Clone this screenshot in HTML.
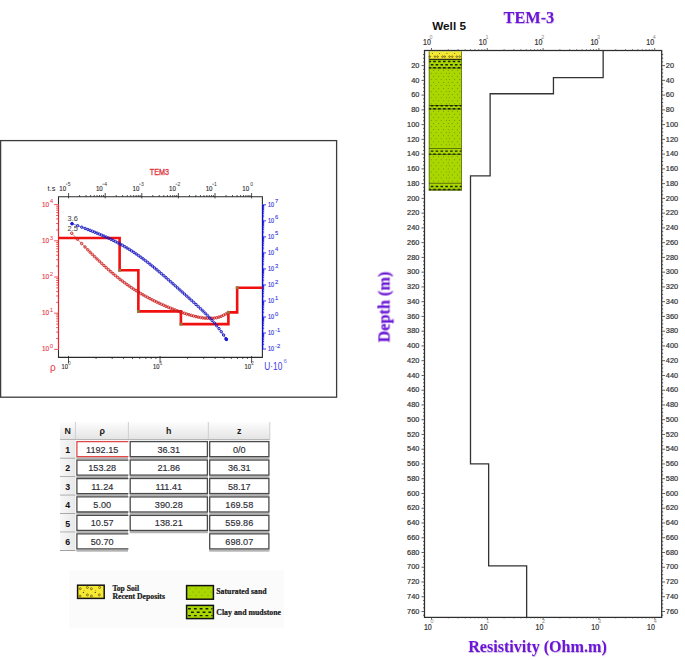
<!DOCTYPE html>
<html><head><meta charset="utf-8"><title>TEM-3</title>
<style>html,body{margin:0;padding:0;background:#fff;}body{width:685px;height:661px;overflow:hidden;}svg{display:block;}</style>
</head><body>
<svg width="685" height="661" viewBox="0 0 685 661">
<defs><filter id="sh" x="-10%" y="-30%" width="120%" height="160%"><feDropShadow dx="0.4" dy="0.8" stdDeviation="0.7" flood-color="#5010a0" flood-opacity="0.35"/></filter></defs>
<rect width="685" height="661" fill="#fff"/>
<rect x="0.6" y="140.6" width="336" height="256.6" fill="none" stroke="#3c3c3c" stroke-width="1.3"/>
<text x="149.80" y="174.90" font-family='"Liberation Sans", sans-serif' font-size="8.2" fill="#dc3440" textLength="19.3" lengthAdjust="spacingAndGlyphs" stroke="#dc3440" stroke-width="0.3">TEM3</text>
<path d="M58.5 204.60V196.7H262.4V204.80M58.5 349.40V357.4H262.4V349.07" fill="none" stroke="#2a2a2a" stroke-width="1.1"/>
<path d="M58.5 204.60V349.40" stroke="#e8242c" stroke-width="1.2"/>
<path d="M262.59999999999997 204.80V349.07" stroke="#1010d0" stroke-width="1.5"/>
<text x="49.10" y="351.30" font-family='"Liberation Sans", sans-serif' font-size="8" fill="#e8343e" text-anchor="end" textLength="7.2" lengthAdjust="spacingAndGlyphs" stroke="#e8343e" stroke-width="0.15">10</text>
<text x="49.80" y="348.10" font-family='"Liberation Sans", sans-serif' font-size="6.2" fill="#e8343e">0</text>
<text x="49.10" y="315.10" font-family='"Liberation Sans", sans-serif' font-size="8" fill="#e8343e" text-anchor="end" textLength="7.2" lengthAdjust="spacingAndGlyphs" stroke="#e8343e" stroke-width="0.15">10</text>
<text x="49.80" y="311.90" font-family='"Liberation Sans", sans-serif' font-size="6.2" fill="#e8343e">1</text>
<text x="49.10" y="278.90" font-family='"Liberation Sans", sans-serif' font-size="8" fill="#e8343e" text-anchor="end" textLength="7.2" lengthAdjust="spacingAndGlyphs" stroke="#e8343e" stroke-width="0.15">10</text>
<text x="49.80" y="275.70" font-family='"Liberation Sans", sans-serif' font-size="6.2" fill="#e8343e">2</text>
<text x="49.10" y="242.70" font-family='"Liberation Sans", sans-serif' font-size="8" fill="#e8343e" text-anchor="end" textLength="7.2" lengthAdjust="spacingAndGlyphs" stroke="#e8343e" stroke-width="0.15">10</text>
<text x="49.80" y="239.50" font-family='"Liberation Sans", sans-serif' font-size="6.2" fill="#e8343e">3</text>
<text x="49.10" y="206.50" font-family='"Liberation Sans", sans-serif' font-size="8" fill="#e8343e" text-anchor="end" textLength="7.2" lengthAdjust="spacingAndGlyphs" stroke="#e8343e" stroke-width="0.15">10</text>
<text x="49.80" y="203.30" font-family='"Liberation Sans", sans-serif' font-size="6.2" fill="#e8343e">4</text>
<path d="M54.2 349.40H58.5M56.2 338.50H58.5M56.2 332.13H58.5M56.2 327.61H58.5M56.2 324.10H58.5M56.2 321.23H58.5M56.2 318.81H58.5M56.2 316.71H58.5M56.2 314.86H58.5M54.2 313.20H58.5M56.2 302.30H58.5M56.2 295.93H58.5M56.2 291.41H58.5M56.2 287.90H58.5M56.2 285.03H58.5M56.2 282.61H58.5M56.2 280.51H58.5M56.2 278.66H58.5M54.2 277.00H58.5M56.2 266.10H58.5M56.2 259.73H58.5M56.2 255.21H58.5M56.2 251.70H58.5M56.2 248.83H58.5M56.2 246.41H58.5M56.2 244.31H58.5M56.2 242.46H58.5M54.2 240.80H58.5M56.2 229.90H58.5M56.2 223.53H58.5M56.2 219.01H58.5M56.2 215.50H58.5M56.2 212.63H58.5M56.2 210.21H58.5M56.2 208.11H58.5M56.2 206.26H58.5M54.2 204.60H58.5" stroke="#e8242c" stroke-width="0.8"/>
<text x="267.90" y="351.47" font-family='"Liberation Sans", sans-serif' font-size="7.2" fill="#3434e0" textLength="6.1" lengthAdjust="spacingAndGlyphs" stroke="#3434e0" stroke-width="0.18">10</text>
<text x="275.10" y="347.67" font-family='"Liberation Sans", sans-serif' font-size="5.8" fill="#3434e0" stroke="#3434e0" stroke-width="0.1">-2</text>
<text x="267.90" y="335.44" font-family='"Liberation Sans", sans-serif' font-size="7.2" fill="#3434e0" textLength="6.1" lengthAdjust="spacingAndGlyphs" stroke="#3434e0" stroke-width="0.18">10</text>
<text x="275.10" y="331.64" font-family='"Liberation Sans", sans-serif' font-size="5.8" fill="#3434e0" stroke="#3434e0" stroke-width="0.1">-1</text>
<text x="267.90" y="319.41" font-family='"Liberation Sans", sans-serif' font-size="7.2" fill="#3434e0" textLength="6.1" lengthAdjust="spacingAndGlyphs" stroke="#3434e0" stroke-width="0.18">10</text>
<text x="275.10" y="315.61" font-family='"Liberation Sans", sans-serif' font-size="5.8" fill="#3434e0" stroke="#3434e0" stroke-width="0.1">0</text>
<text x="267.90" y="303.38" font-family='"Liberation Sans", sans-serif' font-size="7.2" fill="#3434e0" textLength="6.1" lengthAdjust="spacingAndGlyphs" stroke="#3434e0" stroke-width="0.18">10</text>
<text x="275.10" y="299.58" font-family='"Liberation Sans", sans-serif' font-size="5.8" fill="#3434e0" stroke="#3434e0" stroke-width="0.1">1</text>
<text x="267.90" y="287.35" font-family='"Liberation Sans", sans-serif' font-size="7.2" fill="#3434e0" textLength="6.1" lengthAdjust="spacingAndGlyphs" stroke="#3434e0" stroke-width="0.18">10</text>
<text x="275.10" y="283.55" font-family='"Liberation Sans", sans-serif' font-size="5.8" fill="#3434e0" stroke="#3434e0" stroke-width="0.1">2</text>
<text x="267.90" y="271.32" font-family='"Liberation Sans", sans-serif' font-size="7.2" fill="#3434e0" textLength="6.1" lengthAdjust="spacingAndGlyphs" stroke="#3434e0" stroke-width="0.18">10</text>
<text x="275.10" y="267.52" font-family='"Liberation Sans", sans-serif' font-size="5.8" fill="#3434e0" stroke="#3434e0" stroke-width="0.1">3</text>
<text x="267.90" y="255.29" font-family='"Liberation Sans", sans-serif' font-size="7.2" fill="#3434e0" textLength="6.1" lengthAdjust="spacingAndGlyphs" stroke="#3434e0" stroke-width="0.18">10</text>
<text x="275.10" y="251.49" font-family='"Liberation Sans", sans-serif' font-size="5.8" fill="#3434e0" stroke="#3434e0" stroke-width="0.1">4</text>
<text x="267.90" y="239.26" font-family='"Liberation Sans", sans-serif' font-size="7.2" fill="#3434e0" textLength="6.1" lengthAdjust="spacingAndGlyphs" stroke="#3434e0" stroke-width="0.18">10</text>
<text x="275.10" y="235.46" font-family='"Liberation Sans", sans-serif' font-size="5.8" fill="#3434e0" stroke="#3434e0" stroke-width="0.1">5</text>
<text x="267.90" y="223.23" font-family='"Liberation Sans", sans-serif' font-size="7.2" fill="#3434e0" textLength="6.1" lengthAdjust="spacingAndGlyphs" stroke="#3434e0" stroke-width="0.18">10</text>
<text x="275.10" y="219.43" font-family='"Liberation Sans", sans-serif' font-size="5.8" fill="#3434e0" stroke="#3434e0" stroke-width="0.1">6</text>
<text x="267.90" y="207.20" font-family='"Liberation Sans", sans-serif' font-size="7.2" fill="#3434e0" textLength="6.1" lengthAdjust="spacingAndGlyphs" stroke="#3434e0" stroke-width="0.18">10</text>
<text x="275.10" y="203.40" font-family='"Liberation Sans", sans-serif' font-size="5.8" fill="#3434e0" stroke="#3434e0" stroke-width="0.1">7</text>
<path d="M262.4 349.07H266.0M262.4 344.24H264.2M262.4 341.42H264.2M262.4 339.42H264.2M262.4 337.87H264.2M262.4 336.60H264.2M262.4 335.52H264.2M262.4 334.59H264.2M262.4 333.77H264.2M262.4 333.04H266.0M262.4 328.21H264.2M262.4 325.39H264.2M262.4 323.39H264.2M262.4 321.84H264.2M262.4 320.57H264.2M262.4 319.49H264.2M262.4 318.56H264.2M262.4 317.74H264.2M262.4 317.01H266.0M262.4 312.18H264.2M262.4 309.36H264.2M262.4 307.36H264.2M262.4 305.81H264.2M262.4 304.54H264.2M262.4 303.46H264.2M262.4 302.53H264.2M262.4 301.71H264.2M262.4 300.98H266.0M262.4 296.15H264.2M262.4 293.33H264.2M262.4 291.33H264.2M262.4 289.78H264.2M262.4 288.51H264.2M262.4 287.43H264.2M262.4 286.50H264.2M262.4 285.68H264.2M262.4 284.95H266.0M262.4 280.12H264.2M262.4 277.30H264.2M262.4 275.30H264.2M262.4 273.75H264.2M262.4 272.48H264.2M262.4 271.40H264.2M262.4 270.47H264.2M262.4 269.65H264.2M262.4 268.92H266.0M262.4 264.09H264.2M262.4 261.27H264.2M262.4 259.27H264.2M262.4 257.72H264.2M262.4 256.45H264.2M262.4 255.37H264.2M262.4 254.44H264.2M262.4 253.62H264.2M262.4 252.89H266.0M262.4 248.06H264.2M262.4 245.24H264.2M262.4 243.24H264.2M262.4 241.69H264.2M262.4 240.42H264.2M262.4 239.34H264.2M262.4 238.41H264.2M262.4 237.59H264.2M262.4 236.86H266.0M262.4 232.03H264.2M262.4 229.21H264.2M262.4 227.21H264.2M262.4 225.66H264.2M262.4 224.39H264.2M262.4 223.31H264.2M262.4 222.38H264.2M262.4 221.56H264.2M262.4 220.83H266.0M262.4 216.00H264.2M262.4 213.18H264.2M262.4 211.18H264.2M262.4 209.63H264.2M262.4 208.36H264.2M262.4 207.28H264.2M262.4 206.35H264.2M262.4 205.53H264.2M262.4 204.80H266.0" stroke="#1010d0" stroke-width="0.8"/>
<text x="66.10" y="190.90" font-family='"Liberation Sans", sans-serif' font-size="7.2" fill="#2a2a2a" text-anchor="end" textLength="6.8" lengthAdjust="spacingAndGlyphs" stroke="#2a2a2a" stroke-width="0.15">10</text>
<path d="M65.80 184.2h1.8" stroke="#444" stroke-width="0.6"/>
<text x="67.70" y="185.60" font-family='"Liberation Sans", sans-serif' font-size="5.0" fill="#333">5</text>
<text x="102.70" y="190.90" font-family='"Liberation Sans", sans-serif' font-size="7.2" fill="#2a2a2a" text-anchor="end" textLength="6.8" lengthAdjust="spacingAndGlyphs" stroke="#2a2a2a" stroke-width="0.15">10</text>
<path d="M102.40 184.2h1.8" stroke="#444" stroke-width="0.6"/>
<text x="104.30" y="185.60" font-family='"Liberation Sans", sans-serif' font-size="5.0" fill="#333">4</text>
<text x="139.30" y="190.90" font-family='"Liberation Sans", sans-serif' font-size="7.2" fill="#2a2a2a" text-anchor="end" textLength="6.8" lengthAdjust="spacingAndGlyphs" stroke="#2a2a2a" stroke-width="0.15">10</text>
<path d="M139.00 184.2h1.8" stroke="#444" stroke-width="0.6"/>
<text x="140.90" y="185.60" font-family='"Liberation Sans", sans-serif' font-size="5.0" fill="#333">3</text>
<text x="175.90" y="190.90" font-family='"Liberation Sans", sans-serif' font-size="7.2" fill="#2a2a2a" text-anchor="end" textLength="6.8" lengthAdjust="spacingAndGlyphs" stroke="#2a2a2a" stroke-width="0.15">10</text>
<path d="M175.60 184.2h1.8" stroke="#444" stroke-width="0.6"/>
<text x="177.50" y="185.60" font-family='"Liberation Sans", sans-serif' font-size="5.0" fill="#333">2</text>
<text x="212.50" y="190.90" font-family='"Liberation Sans", sans-serif' font-size="7.2" fill="#2a2a2a" text-anchor="end" textLength="6.8" lengthAdjust="spacingAndGlyphs" stroke="#2a2a2a" stroke-width="0.15">10</text>
<path d="M212.20 184.2h1.8" stroke="#444" stroke-width="0.6"/>
<text x="214.10" y="185.60" font-family='"Liberation Sans", sans-serif' font-size="5.0" fill="#333">1</text>
<text x="249.10" y="190.90" font-family='"Liberation Sans", sans-serif' font-size="7.2" fill="#2a2a2a" text-anchor="end" textLength="6.8" lengthAdjust="spacingAndGlyphs" stroke="#2a2a2a" stroke-width="0.15">10</text>
<text x="250.20" y="185.60" font-family='"Liberation Sans", sans-serif' font-size="5.0" fill="#333">0</text>
<path d="M68.60 193.0V198.4M79.62 195.0V196.7M86.06 195.0V196.7M90.64 195.0V196.7M94.18 195.0V196.7M97.08 195.0V196.7M99.53 195.0V196.7M101.65 195.0V196.7M103.53 195.0V196.7M105.20 193.0V198.4M116.22 195.0V196.7M122.66 195.0V196.7M127.24 195.0V196.7M130.78 195.0V196.7M133.68 195.0V196.7M136.13 195.0V196.7M138.25 195.0V196.7M140.13 195.0V196.7M141.80 193.0V198.4M152.82 195.0V196.7M159.26 195.0V196.7M163.84 195.0V196.7M167.38 195.0V196.7M170.28 195.0V196.7M172.73 195.0V196.7M174.85 195.0V196.7M176.73 195.0V196.7M178.40 193.0V198.4M189.42 195.0V196.7M195.86 195.0V196.7M200.44 195.0V196.7M203.98 195.0V196.7M206.88 195.0V196.7M209.33 195.0V196.7M211.45 195.0V196.7M213.33 195.0V196.7M215.00 193.0V198.4M226.02 195.0V196.7M232.46 195.0V196.7M237.04 195.0V196.7M240.58 195.0V196.7M243.48 195.0V196.7M245.93 195.0V196.7M248.05 195.0V196.7M249.93 195.0V196.7M251.60 193.0V198.4" stroke="#222" stroke-width="0.8"/>
<text x="47.50" y="190.90" font-family='"Liberation Sans", sans-serif' font-size="7.4" fill="#2a2a2a" textLength="7.9" lengthAdjust="spacingAndGlyphs">t.s</text>
<text x="67.90" y="369.30" font-family='"Liberation Sans", sans-serif' font-size="7.2" fill="#2a2a2a" text-anchor="end" textLength="6.5" lengthAdjust="spacingAndGlyphs" stroke="#2a2a2a" stroke-width="0.15">10</text>
<text x="68.10" y="364.80" font-family='"Liberation Sans", sans-serif' font-size="4.8" fill="#555">0</text>
<text x="159.45" y="369.30" font-family='"Liberation Sans", sans-serif' font-size="7.2" fill="#2a2a2a" text-anchor="end" textLength="6.5" lengthAdjust="spacingAndGlyphs" stroke="#2a2a2a" stroke-width="0.15">10</text>
<text x="159.65" y="364.80" font-family='"Liberation Sans", sans-serif' font-size="4.8" fill="#555">1</text>
<text x="251.00" y="369.30" font-family='"Liberation Sans", sans-serif' font-size="7.2" fill="#2a2a2a" text-anchor="end" textLength="6.5" lengthAdjust="spacingAndGlyphs" stroke="#2a2a2a" stroke-width="0.15">10</text>
<text x="251.20" y="364.80" font-family='"Liberation Sans", sans-serif' font-size="4.8" fill="#555">2</text>
<path d="M68.50 356.0V363.2M96.06 357.4V359.0M112.18 357.4V359.0M123.62 357.4V359.0M132.49 357.4V359.0M139.74 357.4V359.0M145.87 357.4V359.0M151.18 357.4V359.0M155.86 357.4V359.0M160.05 356.0V363.2M187.61 357.4V359.0M203.73 357.4V359.0M215.17 357.4V359.0M224.04 357.4V359.0M231.29 357.4V359.0M237.42 357.4V359.0M242.73 357.4V359.0M247.41 357.4V359.0M251.60 356.0V363.2" stroke="#222" stroke-width="0.8"/>
<text x="49.90" y="370.60" font-family='"Liberation Sans", sans-serif' font-size="10" fill="#e8343e">&#961;</text>
<text x="264.30" y="369.70" font-family='"Liberation Sans", sans-serif' font-size="10.3" fill="#3c3ce6" textLength="18.0" lengthAdjust="spacingAndGlyphs">U&#183;10</text>
<text x="283.40" y="362.80" font-family='"Liberation Sans", sans-serif' font-size="6.2" fill="#7070ee">6</text>
<path d="M58.5 238.04 H119.62 V270.29 H138.36 V311.36 H180.90 V324.10 H228.39 V312.33 H237.16 V287.68 H262.4" fill="none" stroke="#f01010" stroke-width="2.6" stroke-linejoin="miter"/>
<path d="M71.70 233.23 L77.45 239.19 L81.67 243.54 L85.00 246.97 L87.75 249.77 L90.09 252.14 L92.39 254.44 L94.69 256.72 L96.99 258.96 L99.29 261.18 L101.59 263.35 L103.89 265.49 L106.19 267.59 L108.49 269.65 L110.79 271.67 L113.09 273.64 L115.39 275.56 L117.69 277.43 L119.99 279.25 L122.29 281.03 L124.59 282.76 L126.89 284.43 L129.19 286.06 L131.49 287.63 L133.79 289.16 L136.09 290.65 L138.39 292.08 L140.69 293.47 L142.99 294.82 L145.29 296.13 L147.59 297.39 L149.89 298.62 L152.19 299.80 L154.49 300.96 L156.79 302.08 L159.09 303.17 L161.39 304.22 L163.69 305.25 L165.99 306.25 L168.29 307.23 L170.59 308.17 L172.89 309.09 L175.19 309.99 L177.49 310.86 L179.79 311.70 L182.09 312.51 L184.39 313.29 L186.69 314.04 L188.99 314.74 L191.29 315.41 L193.59 316.03 L195.89 316.60 L198.19 317.10 L200.49 317.54 L202.79 317.89 L205.09 318.16 L207.39 318.33 L209.69 318.38 L211.99 318.30 L214.29 318.07 L216.59 317.68 L218.89 317.10 L221.19 316.32 L223.49 315.30 L225.79 314.03 L228.09 312.48" fill="none" stroke="#cc2020" stroke-width="0.55"/>
<g fill="none" stroke="#cc2020" stroke-width="0.95"><circle cx="71.70" cy="233.23" r="1.22"/><circle cx="77.45" cy="239.19" r="1.22"/><circle cx="81.67" cy="243.54" r="1.22"/><circle cx="85.00" cy="246.97" r="1.22"/><circle cx="87.75" cy="249.77" r="1.22"/><circle cx="90.09" cy="252.14" r="1.22"/><circle cx="92.39" cy="254.44" r="1.22"/><circle cx="94.69" cy="256.72" r="1.22"/><circle cx="96.99" cy="258.96" r="1.22"/><circle cx="99.29" cy="261.18" r="1.22"/><circle cx="101.59" cy="263.35" r="1.22"/><circle cx="103.89" cy="265.49" r="1.22"/><circle cx="106.19" cy="267.59" r="1.22"/><circle cx="108.49" cy="269.65" r="1.22"/><circle cx="110.79" cy="271.67" r="1.22"/><circle cx="113.09" cy="273.64" r="1.22"/><circle cx="115.39" cy="275.56" r="1.22"/><circle cx="117.69" cy="277.43" r="1.22"/><circle cx="119.99" cy="279.25" r="1.22"/><circle cx="122.29" cy="281.03" r="1.22"/><circle cx="124.59" cy="282.76" r="1.22"/><circle cx="126.89" cy="284.43" r="1.22"/><circle cx="129.19" cy="286.06" r="1.22"/><circle cx="131.49" cy="287.63" r="1.22"/><circle cx="133.79" cy="289.16" r="1.22"/><circle cx="136.09" cy="290.65" r="1.22"/><circle cx="138.39" cy="292.08" r="1.22"/><circle cx="140.69" cy="293.47" r="1.22"/><circle cx="142.99" cy="294.82" r="1.22"/><circle cx="145.29" cy="296.13" r="1.22"/><circle cx="147.59" cy="297.39" r="1.22"/><circle cx="149.89" cy="298.62" r="1.22"/><circle cx="152.19" cy="299.80" r="1.22"/><circle cx="154.49" cy="300.96" r="1.22"/><circle cx="156.79" cy="302.08" r="1.22"/><circle cx="159.09" cy="303.17" r="1.22"/><circle cx="161.39" cy="304.22" r="1.22"/><circle cx="163.69" cy="305.25" r="1.22"/><circle cx="165.99" cy="306.25" r="1.22"/><circle cx="168.29" cy="307.23" r="1.22"/><circle cx="170.59" cy="308.17" r="1.22"/><circle cx="172.89" cy="309.09" r="1.22"/><circle cx="175.19" cy="309.99" r="1.22"/><circle cx="177.49" cy="310.86" r="1.22"/><circle cx="179.79" cy="311.70" r="1.22"/><circle cx="182.09" cy="312.51" r="1.22"/><circle cx="184.39" cy="313.29" r="1.22"/><circle cx="186.69" cy="314.04" r="1.22"/><circle cx="188.99" cy="314.74" r="1.22"/><circle cx="191.29" cy="315.41" r="1.22"/><circle cx="193.59" cy="316.03" r="1.22"/><circle cx="195.89" cy="316.60" r="1.22"/><circle cx="198.19" cy="317.10" r="1.22"/><circle cx="200.49" cy="317.54" r="1.22"/><circle cx="202.79" cy="317.89" r="1.22"/><circle cx="205.09" cy="318.16" r="1.22"/><circle cx="207.39" cy="318.33" r="1.22"/><circle cx="209.69" cy="318.38" r="1.22"/><circle cx="211.99" cy="318.30" r="1.22"/><circle cx="214.29" cy="318.07" r="1.22"/><circle cx="216.59" cy="317.68" r="1.22"/><circle cx="218.89" cy="317.10" r="1.22"/><circle cx="221.19" cy="316.32" r="1.22"/><circle cx="223.49" cy="315.30" r="1.22"/><circle cx="225.79" cy="314.03" r="1.22"/><circle cx="228.09" cy="312.48" r="1.22"/></g>
<path d="M72.00 223.67 L77.66 225.68 L81.83 227.21 L85.13 228.46 L87.86 229.51 L90.19 230.41 L92.49 231.32 L94.79 232.24 L97.09 233.18 L99.39 234.13 L101.69 235.11 L103.99 236.11 L106.29 237.14 L108.59 238.19 L110.89 239.28 L113.19 240.41 L115.49 241.56 L117.79 242.76 L120.09 244.00 L122.39 245.28 L124.69 246.61 L126.99 247.98 L129.29 249.40 L131.59 250.86 L133.89 252.37 L136.19 253.93 L138.49 255.53 L140.79 257.18 L143.09 258.87 L145.39 260.60 L147.69 262.38 L149.99 264.19 L152.29 266.04 L154.59 267.92 L156.89 269.83 L159.19 271.77 L161.49 273.73 L163.79 275.71 L166.09 277.71 L168.39 279.72 L170.69 281.75 L172.99 283.79 L175.29 285.83 L177.59 287.88 L179.89 289.94 L182.19 292.00 L184.49 294.06 L186.79 296.12 L189.09 298.19 L191.39 300.27 L193.69 302.36 L195.99 304.46 L198.29 306.59 L200.59 308.75 L202.89 310.94 L205.19 313.19 L207.49 315.50 L209.79 317.89 L212.09 320.38 L214.39 322.98 L216.69 325.72 L218.99 328.62 L221.29 331.71 L223.59 335.02 L225.89 338.59 L226.40 339.42" fill="none" stroke="#1414c0" stroke-width="0.55"/>
<g fill="none" stroke="#1414c0" stroke-width="0.95"><circle cx="72.00" cy="223.67" r="1.22"/><circle cx="77.66" cy="225.68" r="1.22"/><circle cx="81.83" cy="227.21" r="1.22"/><circle cx="85.13" cy="228.46" r="1.22"/><circle cx="87.86" cy="229.51" r="1.22"/><circle cx="90.19" cy="230.41" r="1.22"/><circle cx="92.49" cy="231.32" r="1.22"/><circle cx="94.79" cy="232.24" r="1.22"/><circle cx="97.09" cy="233.18" r="1.22"/><circle cx="99.39" cy="234.13" r="1.22"/><circle cx="101.69" cy="235.11" r="1.22"/><circle cx="103.99" cy="236.11" r="1.22"/><circle cx="106.29" cy="237.14" r="1.22"/><circle cx="108.59" cy="238.19" r="1.22"/><circle cx="110.89" cy="239.28" r="1.22"/><circle cx="113.19" cy="240.41" r="1.22"/><circle cx="115.49" cy="241.56" r="1.22"/><circle cx="117.79" cy="242.76" r="1.22"/><circle cx="120.09" cy="244.00" r="1.22"/><circle cx="122.39" cy="245.28" r="1.22"/><circle cx="124.69" cy="246.61" r="1.22"/><circle cx="126.99" cy="247.98" r="1.22"/><circle cx="129.29" cy="249.40" r="1.22"/><circle cx="131.59" cy="250.86" r="1.22"/><circle cx="133.89" cy="252.37" r="1.22"/><circle cx="136.19" cy="253.93" r="1.22"/><circle cx="138.49" cy="255.53" r="1.22"/><circle cx="140.79" cy="257.18" r="1.22"/><circle cx="143.09" cy="258.87" r="1.22"/><circle cx="145.39" cy="260.60" r="1.22"/><circle cx="147.69" cy="262.38" r="1.22"/><circle cx="149.99" cy="264.19" r="1.22"/><circle cx="152.29" cy="266.04" r="1.22"/><circle cx="154.59" cy="267.92" r="1.22"/><circle cx="156.89" cy="269.83" r="1.22"/><circle cx="159.19" cy="271.77" r="1.22"/><circle cx="161.49" cy="273.73" r="1.22"/><circle cx="163.79" cy="275.71" r="1.22"/><circle cx="166.09" cy="277.71" r="1.22"/><circle cx="168.39" cy="279.72" r="1.22"/><circle cx="170.69" cy="281.75" r="1.22"/><circle cx="172.99" cy="283.79" r="1.22"/><circle cx="175.29" cy="285.83" r="1.22"/><circle cx="177.59" cy="287.88" r="1.22"/><circle cx="179.89" cy="289.94" r="1.22"/><circle cx="182.19" cy="292.00" r="1.22"/><circle cx="184.49" cy="294.06" r="1.22"/><circle cx="186.79" cy="296.12" r="1.22"/><circle cx="189.09" cy="298.19" r="1.22"/><circle cx="191.39" cy="300.27" r="1.22"/><circle cx="193.69" cy="302.36" r="1.22"/><circle cx="195.99" cy="304.46" r="1.22"/><circle cx="198.29" cy="306.59" r="1.22"/><circle cx="200.59" cy="308.75" r="1.22"/><circle cx="202.89" cy="310.94" r="1.22"/><circle cx="205.19" cy="313.19" r="1.22"/><circle cx="207.49" cy="315.50" r="1.22"/><circle cx="209.79" cy="317.89" r="1.22"/><circle cx="212.09" cy="320.38" r="1.22"/><circle cx="214.39" cy="322.98" r="1.22"/><circle cx="216.69" cy="325.72" r="1.22"/><circle cx="218.99" cy="328.62" r="1.22"/><circle cx="221.29" cy="331.71" r="1.22"/><circle cx="223.59" cy="335.02" r="1.22"/><circle cx="225.89" cy="338.59" r="1.22"/><circle cx="226.40" cy="339.42" r="1.22"/></g>
<circle cx="72.00" cy="223.67" r="1.6" fill="#1a1ad8"/>
<circle cx="226.40" cy="339.42" r="1.6" fill="#1a1ad8"/>
<rect x="118.22" y="268.89" width="2.8" height="2.8" fill="#8c7a3c"/>
<rect x="136.96" y="309.96" width="2.8" height="2.8" fill="#8c7a3c"/>
<rect x="179.50" y="322.70" width="2.8" height="2.8" fill="#8c7a3c"/>
<rect x="226.99" y="310.93" width="2.8" height="2.8" fill="#8c7a3c"/>
<rect x="235.76" y="286.28" width="2.8" height="2.8" fill="#8c7a3c"/>
<text x="67.6" y="220.6" font-family='"Liberation Sans", sans-serif' font-size="7.4" fill="#333">3.6</text>
<text x="67.6" y="231.4" font-family='"Liberation Sans", sans-serif' font-size="7.4" fill="#333">2.5</text>
<defs><linearGradient id="hg" x1="0" y1="0" x2="0" y2="1"><stop offset="0" stop-color="#fdfdfd"/><stop offset="1" stop-color="#e4e4e4"/></linearGradient><linearGradient id="ng" x1="0" y1="0" x2="1" y2="0"><stop offset="0" stop-color="#f8f8f8"/><stop offset="1" stop-color="#e8e8e8"/></linearGradient></defs>
<rect x="60" y="422" width="209.8" height="17.6" fill="url(#hg)"/>
<path d="M75.4 422V439.6" stroke="#cfcfcf" stroke-width="1"/>
<path d="M128.4 422V439.6" stroke="#cfcfcf" stroke-width="1"/>
<path d="M208.3 422V439.6" stroke="#cfcfcf" stroke-width="1"/>
<path d="M269.8 422V439.6" stroke="#cfcfcf" stroke-width="1"/>
<path d="M60 439.6H269.8" stroke="#b0b0b0" stroke-width="1"/>
<text x="67.70" y="434.20" font-family='"Liberation Sans", sans-serif' font-size="8.8" fill="#1a1a1a" text-anchor="middle" font-weight="bold">N</text>
<text x="102.20" y="434.20" font-family='"Liberation Sans", sans-serif' font-size="8.8" fill="#1a1a1a" text-anchor="middle" font-weight="bold">&#961;</text>
<text x="168.80" y="434.20" font-family='"Liberation Sans", sans-serif' font-size="8.8" fill="#1a1a1a" text-anchor="middle" font-weight="bold">h</text>
<text x="239.30" y="434.20" font-family='"Liberation Sans", sans-serif' font-size="8.8" fill="#1a1a1a" text-anchor="middle" font-weight="bold">z</text>
<rect x="60" y="440.40" width="15.4" height="18.45" fill="url(#ng)"/>
<path d="M60 458.25H75.4" stroke="#a0a0a0" stroke-width="1"/>
<text x="67.60" y="452.70" font-family='"Liberation Sans", sans-serif' font-size="8.8" fill="#111" text-anchor="middle" font-weight="bold">1</text>
<rect x="76.40" y="457.25" width="51.60" height="2.2" fill="#b4b4b4"/>
<rect x="76.90" y="441.60" width="51.50" height="15.05" fill="#fff"/>
<path d="M128.40 441.60H76.90V456.65H128.40" fill="none" stroke="#e04848" stroke-width="1.3"/>
<text x="102.20" y="452.60" font-family='"Liberation Sans", sans-serif' font-size="9.6" fill="#2c2c36" text-anchor="middle" textLength="32.29" lengthAdjust="spacingAndGlyphs" stroke="#2c2c36" stroke-width="0.15">1192.15</text>
<rect x="129.70" y="457.25" width="78.20" height="2.2" fill="#b4b4b4"/>
<rect x="130.20" y="441.60" width="77.20" height="15.05" fill="#fff" stroke="#4a4a4a" stroke-width="1.3"/>
<text x="168.80" y="452.60" font-family='"Liberation Sans", sans-serif' font-size="9.6" fill="#2c2c36" text-anchor="middle" textLength="22.82" lengthAdjust="spacingAndGlyphs" stroke="#2c2c36" stroke-width="0.15">36.31</text>
<rect x="209.20" y="457.25" width="60.20" height="2.2" fill="#b4b4b4"/>
<rect x="209.70" y="441.60" width="59.20" height="15.05" fill="#fff" stroke="#4a4a4a" stroke-width="1.3"/>
<text x="239.30" y="452.60" font-family='"Liberation Sans", sans-serif' font-size="9.6" fill="#2c2c36" text-anchor="middle" textLength="12.68" lengthAdjust="spacingAndGlyphs" stroke="#2c2c36" stroke-width="0.15">0/0</text>
<rect x="60" y="458.85" width="15.4" height="18.45" fill="url(#ng)"/>
<path d="M60 476.70H75.4" stroke="#a0a0a0" stroke-width="1"/>
<text x="67.60" y="471.15" font-family='"Liberation Sans", sans-serif' font-size="8.8" fill="#111" text-anchor="middle" font-weight="bold">2</text>
<rect x="76.40" y="475.70" width="51.60" height="2.2" fill="#b4b4b4"/>
<rect x="76.90" y="460.05" width="51.50" height="15.05" fill="#fff"/>
<path d="M128.40 460.05H76.90V475.10H128.40" fill="none" stroke="#4a4a4a" stroke-width="1.3"/>
<text x="102.20" y="471.05" font-family='"Liberation Sans", sans-serif' font-size="9.6" fill="#2c2c36" text-anchor="middle" textLength="27.9" lengthAdjust="spacingAndGlyphs" stroke="#2c2c36" stroke-width="0.15">153.28</text>
<rect x="129.70" y="475.70" width="78.20" height="2.2" fill="#b4b4b4"/>
<rect x="130.20" y="460.05" width="77.20" height="15.05" fill="#fff" stroke="#4a4a4a" stroke-width="1.3"/>
<text x="168.80" y="471.05" font-family='"Liberation Sans", sans-serif' font-size="9.6" fill="#2c2c36" text-anchor="middle" textLength="22.82" lengthAdjust="spacingAndGlyphs" stroke="#2c2c36" stroke-width="0.15">21.86</text>
<rect x="209.20" y="475.70" width="60.20" height="2.2" fill="#b4b4b4"/>
<rect x="209.70" y="460.05" width="59.20" height="15.05" fill="#fff" stroke="#4a4a4a" stroke-width="1.3"/>
<text x="239.30" y="471.05" font-family='"Liberation Sans", sans-serif' font-size="9.6" fill="#2c2c36" text-anchor="middle" textLength="22.82" lengthAdjust="spacingAndGlyphs" stroke="#2c2c36" stroke-width="0.15">36.31</text>
<rect x="60" y="477.30" width="15.4" height="18.45" fill="url(#ng)"/>
<path d="M60 495.15H75.4" stroke="#a0a0a0" stroke-width="1"/>
<text x="67.60" y="489.60" font-family='"Liberation Sans", sans-serif' font-size="8.8" fill="#111" text-anchor="middle" font-weight="bold">3</text>
<rect x="76.40" y="494.15" width="51.60" height="2.2" fill="#b4b4b4"/>
<rect x="76.90" y="478.50" width="51.50" height="15.05" fill="#fff"/>
<path d="M128.40 478.50H76.90V493.55H128.40" fill="none" stroke="#4a4a4a" stroke-width="1.3"/>
<text x="102.20" y="489.50" font-family='"Liberation Sans", sans-serif' font-size="9.6" fill="#2c2c36" text-anchor="middle" textLength="22.15" lengthAdjust="spacingAndGlyphs" stroke="#2c2c36" stroke-width="0.15">11.24</text>
<rect x="129.70" y="494.15" width="78.20" height="2.2" fill="#b4b4b4"/>
<rect x="130.20" y="478.50" width="77.20" height="15.05" fill="#fff" stroke="#4a4a4a" stroke-width="1.3"/>
<text x="168.80" y="489.50" font-family='"Liberation Sans", sans-serif' font-size="9.6" fill="#2c2c36" text-anchor="middle" textLength="26.54" lengthAdjust="spacingAndGlyphs" stroke="#2c2c36" stroke-width="0.15">111.41</text>
<rect x="209.20" y="494.15" width="60.20" height="2.2" fill="#b4b4b4"/>
<rect x="209.70" y="478.50" width="59.20" height="15.05" fill="#fff" stroke="#4a4a4a" stroke-width="1.3"/>
<text x="239.30" y="489.50" font-family='"Liberation Sans", sans-serif' font-size="9.6" fill="#2c2c36" text-anchor="middle" textLength="22.82" lengthAdjust="spacingAndGlyphs" stroke="#2c2c36" stroke-width="0.15">58.17</text>
<rect x="60" y="495.75" width="15.4" height="18.45" fill="url(#ng)"/>
<path d="M60 513.60H75.4" stroke="#a0a0a0" stroke-width="1"/>
<text x="67.60" y="508.05" font-family='"Liberation Sans", sans-serif' font-size="8.8" fill="#111" text-anchor="middle" font-weight="bold">4</text>
<rect x="76.40" y="512.60" width="51.60" height="2.2" fill="#b4b4b4"/>
<rect x="76.90" y="496.95" width="51.50" height="15.05" fill="#fff"/>
<path d="M128.40 496.95H76.90V512.00H128.40" fill="none" stroke="#4a4a4a" stroke-width="1.3"/>
<text x="102.20" y="507.95" font-family='"Liberation Sans", sans-serif' font-size="9.6" fill="#2c2c36" text-anchor="middle" textLength="17.75" lengthAdjust="spacingAndGlyphs" stroke="#2c2c36" stroke-width="0.15">5.00</text>
<rect x="129.70" y="512.60" width="78.20" height="2.2" fill="#b4b4b4"/>
<rect x="130.20" y="496.95" width="77.20" height="15.05" fill="#fff" stroke="#4a4a4a" stroke-width="1.3"/>
<text x="168.80" y="507.95" font-family='"Liberation Sans", sans-serif' font-size="9.6" fill="#2c2c36" text-anchor="middle" textLength="27.9" lengthAdjust="spacingAndGlyphs" stroke="#2c2c36" stroke-width="0.15">390.28</text>
<rect x="209.20" y="512.60" width="60.20" height="2.2" fill="#b4b4b4"/>
<rect x="209.70" y="496.95" width="59.20" height="15.05" fill="#fff" stroke="#4a4a4a" stroke-width="1.3"/>
<text x="239.30" y="507.95" font-family='"Liberation Sans", sans-serif' font-size="9.6" fill="#2c2c36" text-anchor="middle" textLength="27.9" lengthAdjust="spacingAndGlyphs" stroke="#2c2c36" stroke-width="0.15">169.58</text>
<rect x="60" y="514.20" width="15.4" height="18.45" fill="url(#ng)"/>
<path d="M60 532.05H75.4" stroke="#a0a0a0" stroke-width="1"/>
<text x="67.60" y="526.50" font-family='"Liberation Sans", sans-serif' font-size="8.8" fill="#111" text-anchor="middle" font-weight="bold">5</text>
<rect x="76.40" y="531.05" width="51.60" height="2.2" fill="#b4b4b4"/>
<rect x="76.90" y="515.40" width="51.50" height="15.05" fill="#fff"/>
<path d="M128.40 515.40H76.90V530.45H128.40" fill="none" stroke="#4a4a4a" stroke-width="1.3"/>
<text x="102.20" y="526.40" font-family='"Liberation Sans", sans-serif' font-size="9.6" fill="#2c2c36" text-anchor="middle" textLength="22.82" lengthAdjust="spacingAndGlyphs" stroke="#2c2c36" stroke-width="0.15">10.57</text>
<rect x="129.70" y="531.05" width="78.20" height="2.2" fill="#b4b4b4"/>
<rect x="130.20" y="515.40" width="77.20" height="15.05" fill="#fff" stroke="#4a4a4a" stroke-width="1.3"/>
<text x="168.80" y="526.40" font-family='"Liberation Sans", sans-serif' font-size="9.6" fill="#2c2c36" text-anchor="middle" textLength="27.9" lengthAdjust="spacingAndGlyphs" stroke="#2c2c36" stroke-width="0.15">138.21</text>
<rect x="209.20" y="531.05" width="60.20" height="2.2" fill="#b4b4b4"/>
<rect x="209.70" y="515.40" width="59.20" height="15.05" fill="#fff" stroke="#4a4a4a" stroke-width="1.3"/>
<text x="239.30" y="526.40" font-family='"Liberation Sans", sans-serif' font-size="9.6" fill="#2c2c36" text-anchor="middle" textLength="27.9" lengthAdjust="spacingAndGlyphs" stroke="#2c2c36" stroke-width="0.15">559.86</text>
<rect x="60" y="532.65" width="15.4" height="18.45" fill="url(#ng)"/>
<path d="M60 550.50H75.4" stroke="#a0a0a0" stroke-width="1"/>
<text x="67.60" y="544.95" font-family='"Liberation Sans", sans-serif' font-size="8.8" fill="#111" text-anchor="middle" font-weight="bold">6</text>
<rect x="76.40" y="549.50" width="51.60" height="2.2" fill="#b4b4b4"/>
<rect x="76.90" y="533.85" width="51.50" height="15.05" fill="#fff"/>
<path d="M128.40 533.85H76.90V548.90H128.40" fill="none" stroke="#4a4a4a" stroke-width="1.3"/>
<text x="102.20" y="544.85" font-family='"Liberation Sans", sans-serif' font-size="9.6" fill="#2c2c36" text-anchor="middle" textLength="22.82" lengthAdjust="spacingAndGlyphs" stroke="#2c2c36" stroke-width="0.15">50.70</text>
<rect x="209.20" y="549.50" width="60.20" height="2.2" fill="#b4b4b4"/>
<rect x="209.70" y="533.85" width="59.20" height="15.05" fill="#fff" stroke="#4a4a4a" stroke-width="1.3"/>
<text x="239.30" y="544.85" font-family='"Liberation Sans", sans-serif' font-size="9.6" fill="#2c2c36" text-anchor="middle" textLength="27.9" lengthAdjust="spacingAndGlyphs" stroke="#2c2c36" stroke-width="0.15">698.07</text>
<rect x="69" y="570.5" width="215" height="57.5" fill="#fbfbfb"/>
<rect x="77.6" y="585.2" width="26.6" height="13.2" fill="#f6e934" stroke="#151515" stroke-width="1.5"/><circle cx="80.2" cy="588.7" r="1.0" fill="none" stroke="#6b5a10" stroke-width="0.8"/><circle cx="87.4" cy="587.5" r="1.0" fill="none" stroke="#6b5a10" stroke-width="0.8"/><circle cx="91.4" cy="588.7" r="1.0" fill="none" stroke="#6b5a10" stroke-width="0.8"/><circle cx="99.6" cy="587.5" r="1.0" fill="none" stroke="#6b5a10" stroke-width="0.8"/><circle cx="87.4" cy="594.9" r="1.0" fill="none" stroke="#6b5a10" stroke-width="0.8"/><circle cx="91.4" cy="596.1" r="1.0" fill="none" stroke="#6b5a10" stroke-width="0.8"/><circle cx="99.3" cy="594.9" r="1.0" fill="none" stroke="#6b5a10" stroke-width="0.8"/><circle cx="80.0" cy="596.1" r="1.0" fill="none" stroke="#6b5a10" stroke-width="0.8"/><circle cx="83.4" cy="592.4" r="0.6" fill="#4a3a00"/><circle cx="95.3" cy="592.4" r="0.6" fill="#4a3a00"/><circle cx="84.1" cy="590.2" r="0.35" fill="#4a3a00"/><circle cx="95.8" cy="590.2" r="0.35" fill="#4a3a00"/>
<rect x="186.6" y="585.6" width="26.8" height="13.6" fill="#abd700" stroke="#111" stroke-width="1.5"/><path d="M189.6 588.8h0.9M195.6 588.8h0.9M201.6 588.8h0.9M207.6 588.8h0.9M192.6 592.1h0.9M198.6 592.1h0.9M204.6 592.1h0.9M210.6 592.1h0.9M189.6 595.4h0.9M195.6 595.4h0.9M201.6 595.4h0.9M207.6 595.4h0.9" stroke="#6f9400" stroke-width="0.9"/>
<rect x="186.6" y="605.4" width="26.8" height="13.2" fill="#abd700" stroke="#111" stroke-width="1.5"/><path d="M188.1 608.8h2.8M193.9 608.8h2.8M199.7 608.8h2.8M205.5 608.8h2.8M211.3 608.8h1.1M191.0 612.2h2.8M196.8 612.2h2.8M202.6 612.2h2.8M208.4 612.2h2.8M188.1 615.6h2.8M193.9 615.6h2.8M199.7 615.6h2.8M205.5 615.6h2.8M211.3 615.6h1.1" stroke="#142000" stroke-width="1.4"/>
<text x="112.40" y="591.00" font-family='"Liberation Serif", serif' font-size="8.3" fill="#151515" font-weight="bold" textLength="26.7" lengthAdjust="spacingAndGlyphs" stroke="#151515" stroke-width="0.2">Top Soil</text>
<text x="112.40" y="599.40" font-family='"Liberation Serif", serif' font-size="8.3" fill="#151515" font-weight="bold" textLength="52.5" lengthAdjust="spacingAndGlyphs" stroke="#151515" stroke-width="0.2">Recent Deposits</text>
<text x="216.30" y="594.40" font-family='"Liberation Serif", serif' font-size="8.3" fill="#151515" font-weight="bold" textLength="50.3" lengthAdjust="spacingAndGlyphs" stroke="#151515" stroke-width="0.2">Saturated sand</text>
<text x="216.30" y="615.00" font-family='"Liberation Serif", serif' font-size="8.3" fill="#151515" font-weight="bold" textLength="64.8" lengthAdjust="spacingAndGlyphs" stroke="#151515" stroke-width="0.2">Clay and mudstone</text>
<rect x="428.9" y="51.5" width="32.9" height="138.9" fill="#abd700"/>
<rect x="428.9" y="51.5" width="32.9" height="7.80" fill="#f6e934"/>
<circle cx="432.4" cy="53.5" r="0.5" fill="#5a4a10"/><circle cx="439.4" cy="53.5" r="0.5" fill="#5a4a10"/><circle cx="447.0" cy="53.5" r="0.5" fill="#5a4a10"/><circle cx="454.6" cy="53.5" r="0.5" fill="#5a4a10"/><circle cx="429.8" cy="56.6" r="0.8" fill="none" stroke="#5a4a10" stroke-width="0.7"/><circle cx="435.0" cy="56.6" r="0.8" fill="none" stroke="#5a4a10" stroke-width="0.7"/><circle cx="437.6" cy="56.6" r="0.8" fill="none" stroke="#5a4a10" stroke-width="0.7"/><circle cx="442.5" cy="56.6" r="0.8" fill="none" stroke="#5a4a10" stroke-width="0.7"/><circle cx="444.8" cy="56.6" r="0.8" fill="none" stroke="#5a4a10" stroke-width="0.7"/><circle cx="449.5" cy="56.6" r="0.8" fill="none" stroke="#5a4a10" stroke-width="0.7"/><circle cx="452.3" cy="56.6" r="0.8" fill="none" stroke="#5a4a10" stroke-width="0.7"/><circle cx="456.8" cy="56.6" r="0.8" fill="none" stroke="#5a4a10" stroke-width="0.7"/><circle cx="459.6" cy="56.6" r="0.8" fill="none" stroke="#5a4a10" stroke-width="0.7"/>
<path d="M433.1 70.30h1M438.1 70.30h1M443.0 70.30h1M447.8 70.30h1M451.8 70.30h1M457.0 70.30h1M430.8 73.35h1M435.7 73.35h1M440.8 73.35h1M445.9 73.35h1M448.9 73.35h1M454.1 73.35h1M459.1 73.35h1M433.1 76.40h1M438.1 76.40h1M443.0 76.40h1M447.8 76.40h1M451.8 76.40h1M457.0 76.40h1M430.8 79.45h1M435.7 79.45h1M440.8 79.45h1M445.9 79.45h1M448.9 79.45h1M454.1 79.45h1M459.1 79.45h1M433.1 82.50h1M438.1 82.50h1M443.0 82.50h1M447.8 82.50h1M451.8 82.50h1M457.0 82.50h1M430.8 85.55h1M435.7 85.55h1M440.8 85.55h1M445.9 85.55h1M448.9 85.55h1M454.1 85.55h1M459.1 85.55h1M433.1 88.60h1M438.1 88.60h1M443.0 88.60h1M447.8 88.60h1M451.8 88.60h1M457.0 88.60h1M430.8 91.65h1M435.7 91.65h1M440.8 91.65h1M445.9 91.65h1M448.9 91.65h1M454.1 91.65h1M459.1 91.65h1M433.1 94.70h1M438.1 94.70h1M443.0 94.70h1M447.8 94.70h1M451.8 94.70h1M457.0 94.70h1M430.8 97.75h1M435.7 97.75h1M440.8 97.75h1M445.9 97.75h1M448.9 97.75h1M454.1 97.75h1M459.1 97.75h1M433.1 100.80h1M438.1 100.80h1M443.0 100.80h1M447.8 100.80h1M451.8 100.80h1M457.0 100.80h1M430.8 103.85h1M435.7 103.85h1M440.8 103.85h1M445.9 103.85h1M448.9 103.85h1M454.1 103.85h1M459.1 103.85h1M433.1 111.30h1M438.1 111.30h1M443.0 111.30h1M447.8 111.30h1M451.8 111.30h1M457.0 111.30h1M430.8 114.35h1M435.7 114.35h1M440.8 114.35h1M445.9 114.35h1M448.9 114.35h1M454.1 114.35h1M459.1 114.35h1M433.1 117.40h1M438.1 117.40h1M443.0 117.40h1M447.8 117.40h1M451.8 117.40h1M457.0 117.40h1M430.8 120.45h1M435.7 120.45h1M440.8 120.45h1M445.9 120.45h1M448.9 120.45h1M454.1 120.45h1M459.1 120.45h1M433.1 123.50h1M438.1 123.50h1M443.0 123.50h1M447.8 123.50h1M451.8 123.50h1M457.0 123.50h1M430.8 126.55h1M435.7 126.55h1M440.8 126.55h1M445.9 126.55h1M448.9 126.55h1M454.1 126.55h1M459.1 126.55h1M433.1 129.60h1M438.1 129.60h1M443.0 129.60h1M447.8 129.60h1M451.8 129.60h1M457.0 129.60h1M430.8 132.65h1M435.7 132.65h1M440.8 132.65h1M445.9 132.65h1M448.9 132.65h1M454.1 132.65h1M459.1 132.65h1M433.1 135.70h1M438.1 135.70h1M443.0 135.70h1M447.8 135.70h1M451.8 135.70h1M457.0 135.70h1M430.8 138.75h1M435.7 138.75h1M440.8 138.75h1M445.9 138.75h1M448.9 138.75h1M454.1 138.75h1M459.1 138.75h1M433.1 141.80h1M438.1 141.80h1M443.0 141.80h1M447.8 141.80h1M451.8 141.80h1M457.0 141.80h1M430.8 144.85h1M435.7 144.85h1M440.8 144.85h1M445.9 144.85h1M448.9 144.85h1M454.1 144.85h1M459.1 144.85h1M433.1 156.70h1M438.1 156.70h1M443.0 156.70h1M447.8 156.70h1M451.8 156.70h1M457.0 156.70h1M430.8 159.75h1M435.7 159.75h1M440.8 159.75h1M445.9 159.75h1M448.9 159.75h1M454.1 159.75h1M459.1 159.75h1M433.1 162.80h1M438.1 162.80h1M443.0 162.80h1M447.8 162.80h1M451.8 162.80h1M457.0 162.80h1M430.8 165.85h1M435.7 165.85h1M440.8 165.85h1M445.9 165.85h1M448.9 165.85h1M454.1 165.85h1M459.1 165.85h1M433.1 168.90h1M438.1 168.90h1M443.0 168.90h1M447.8 168.90h1M451.8 168.90h1M457.0 168.90h1M430.8 171.95h1M435.7 171.95h1M440.8 171.95h1M445.9 171.95h1M448.9 171.95h1M454.1 171.95h1M459.1 171.95h1M433.1 175.00h1M438.1 175.00h1M443.0 175.00h1M447.8 175.00h1M451.8 175.00h1M457.0 175.00h1M430.8 178.05h1M435.7 178.05h1M440.8 178.05h1M445.9 178.05h1M448.9 178.05h1M454.1 178.05h1M459.1 178.05h1M433.1 181.10h1M438.1 181.10h1M443.0 181.10h1M447.8 181.10h1M451.8 181.10h1M457.0 181.10h1" stroke="#789c00" stroke-width="1"/>
<path d="M428.9 68.00H461.8M428.9 59.60H461.8M428.9 109.00H461.8M428.9 105.50H461.8M428.9 154.40H461.8M428.9 148.50H461.8M428.9 189.80H461.8M428.9 183.30H461.8" stroke="#3c4a10" stroke-width="0.7"/>
<path d="M428.9 67.70H431.1M433.2 67.70H435.8M438.1 67.70H440.7M443.0 67.70H445.6M447.9 67.70H450.5M452.7 67.70H455.3M457.7 67.70H460.3M430.8 64.70H433.4M435.6 64.70H438.2M440.5 64.70H443.1M445.3 64.70H447.9M450.1 64.70H452.7M454.9 64.70H457.5M459.7 64.70H461.8M428.9 61.50H431.1M433.2 61.50H435.8M438.1 61.50H440.7M443.0 61.50H445.6M447.9 61.50H450.5M452.7 61.50H455.3M457.7 61.50H460.3M428.9 108.70H431.1M433.2 108.70H435.8M438.1 108.70H440.7M443.0 108.70H445.6M447.9 108.70H450.5M452.7 108.70H455.3M457.7 108.70H460.3M430.8 105.70H433.4M435.6 105.70H438.2M440.5 105.70H443.1M445.3 105.70H447.9M450.1 105.70H452.7M454.9 105.70H457.5M459.7 105.70H461.8M428.9 154.10H431.1M433.2 154.10H435.8M438.1 154.10H440.7M443.0 154.10H445.6M447.9 154.10H450.5M452.7 154.10H455.3M457.7 154.10H460.3M430.8 151.10H433.4M435.6 151.10H438.2M440.5 151.10H443.1M445.3 151.10H447.9M450.1 151.10H452.7M454.9 151.10H457.5M459.7 151.10H461.8M428.9 189.50H431.1M433.2 189.50H435.8M438.1 189.50H440.7M443.0 189.50H445.6M447.9 189.50H450.5M452.7 189.50H455.3M457.7 189.50H460.3M430.8 186.50H433.4M435.6 186.50H438.2M440.5 186.50H443.1M445.3 186.50H447.9M450.1 186.50H452.7M454.9 186.50H457.5M459.7 186.50H461.8" stroke="#1a2600" stroke-width="1.35"/>
<path d="M428.9 59.3H461.8" stroke="#1a1a1a" stroke-width="1"/>
<path d="M429.2 51.5V190.4M461.5 51.5V190.4M428.9 190.2H461.8" stroke="#4a5a10" stroke-width="0.7"/>
<rect x="424.5" y="50.5" width="237.2" height="566.9" fill="none" stroke="#2e2e2e" stroke-width="1.25"/>
<text x="419.40" y="67.80" font-family='"Liberation Sans", sans-serif' font-size="8" fill="#333" text-anchor="end" textLength="8.2" lengthAdjust="spacingAndGlyphs" stroke="#333" stroke-width="0.22">20</text>
<text x="665.80" y="67.80" font-family='"Liberation Sans", sans-serif' font-size="8" fill="#333" textLength="8.2" lengthAdjust="spacingAndGlyphs" stroke="#333" stroke-width="0.22">20</text>
<text x="419.40" y="82.56" font-family='"Liberation Sans", sans-serif' font-size="8" fill="#333" text-anchor="end" textLength="8.2" lengthAdjust="spacingAndGlyphs" stroke="#333" stroke-width="0.22">40</text>
<text x="665.80" y="82.56" font-family='"Liberation Sans", sans-serif' font-size="8" fill="#333" textLength="8.2" lengthAdjust="spacingAndGlyphs" stroke="#333" stroke-width="0.22">40</text>
<text x="419.40" y="97.31" font-family='"Liberation Sans", sans-serif' font-size="8" fill="#333" text-anchor="end" textLength="8.2" lengthAdjust="spacingAndGlyphs" stroke="#333" stroke-width="0.22">60</text>
<text x="665.80" y="97.31" font-family='"Liberation Sans", sans-serif' font-size="8" fill="#333" textLength="8.2" lengthAdjust="spacingAndGlyphs" stroke="#333" stroke-width="0.22">60</text>
<text x="419.40" y="112.07" font-family='"Liberation Sans", sans-serif' font-size="8" fill="#333" text-anchor="end" textLength="8.2" lengthAdjust="spacingAndGlyphs" stroke="#333" stroke-width="0.22">80</text>
<text x="665.80" y="112.07" font-family='"Liberation Sans", sans-serif' font-size="8" fill="#333" textLength="8.2" lengthAdjust="spacingAndGlyphs" stroke="#333" stroke-width="0.22">80</text>
<text x="419.40" y="126.82" font-family='"Liberation Sans", sans-serif' font-size="8" fill="#333" text-anchor="end" textLength="12.299999999999999" lengthAdjust="spacingAndGlyphs" stroke="#333" stroke-width="0.22">100</text>
<text x="665.80" y="126.82" font-family='"Liberation Sans", sans-serif' font-size="8" fill="#333" textLength="12.299999999999999" lengthAdjust="spacingAndGlyphs" stroke="#333" stroke-width="0.22">100</text>
<text x="419.40" y="141.57" font-family='"Liberation Sans", sans-serif' font-size="8" fill="#333" text-anchor="end" textLength="12.299999999999999" lengthAdjust="spacingAndGlyphs" stroke="#333" stroke-width="0.22">120</text>
<text x="665.80" y="141.57" font-family='"Liberation Sans", sans-serif' font-size="8" fill="#333" textLength="12.299999999999999" lengthAdjust="spacingAndGlyphs" stroke="#333" stroke-width="0.22">120</text>
<text x="419.40" y="156.33" font-family='"Liberation Sans", sans-serif' font-size="8" fill="#333" text-anchor="end" textLength="12.299999999999999" lengthAdjust="spacingAndGlyphs" stroke="#333" stroke-width="0.22">140</text>
<text x="665.80" y="156.33" font-family='"Liberation Sans", sans-serif' font-size="8" fill="#333" textLength="12.299999999999999" lengthAdjust="spacingAndGlyphs" stroke="#333" stroke-width="0.22">140</text>
<text x="419.40" y="171.08" font-family='"Liberation Sans", sans-serif' font-size="8" fill="#333" text-anchor="end" textLength="12.299999999999999" lengthAdjust="spacingAndGlyphs" stroke="#333" stroke-width="0.22">160</text>
<text x="665.80" y="171.08" font-family='"Liberation Sans", sans-serif' font-size="8" fill="#333" textLength="12.299999999999999" lengthAdjust="spacingAndGlyphs" stroke="#333" stroke-width="0.22">160</text>
<text x="419.40" y="185.84" font-family='"Liberation Sans", sans-serif' font-size="8" fill="#333" text-anchor="end" textLength="12.299999999999999" lengthAdjust="spacingAndGlyphs" stroke="#333" stroke-width="0.22">180</text>
<text x="665.80" y="185.84" font-family='"Liberation Sans", sans-serif' font-size="8" fill="#333" textLength="12.299999999999999" lengthAdjust="spacingAndGlyphs" stroke="#333" stroke-width="0.22">180</text>
<text x="419.40" y="200.59" font-family='"Liberation Sans", sans-serif' font-size="8" fill="#333" text-anchor="end" textLength="12.299999999999999" lengthAdjust="spacingAndGlyphs" stroke="#333" stroke-width="0.22">200</text>
<text x="665.80" y="200.59" font-family='"Liberation Sans", sans-serif' font-size="8" fill="#333" textLength="12.299999999999999" lengthAdjust="spacingAndGlyphs" stroke="#333" stroke-width="0.22">200</text>
<text x="419.40" y="215.34" font-family='"Liberation Sans", sans-serif' font-size="8" fill="#333" text-anchor="end" textLength="12.299999999999999" lengthAdjust="spacingAndGlyphs" stroke="#333" stroke-width="0.22">220</text>
<text x="665.80" y="215.34" font-family='"Liberation Sans", sans-serif' font-size="8" fill="#333" textLength="12.299999999999999" lengthAdjust="spacingAndGlyphs" stroke="#333" stroke-width="0.22">220</text>
<text x="419.40" y="230.10" font-family='"Liberation Sans", sans-serif' font-size="8" fill="#333" text-anchor="end" textLength="12.299999999999999" lengthAdjust="spacingAndGlyphs" stroke="#333" stroke-width="0.22">240</text>
<text x="665.80" y="230.10" font-family='"Liberation Sans", sans-serif' font-size="8" fill="#333" textLength="12.299999999999999" lengthAdjust="spacingAndGlyphs" stroke="#333" stroke-width="0.22">240</text>
<text x="419.40" y="244.85" font-family='"Liberation Sans", sans-serif' font-size="8" fill="#333" text-anchor="end" textLength="12.299999999999999" lengthAdjust="spacingAndGlyphs" stroke="#333" stroke-width="0.22">260</text>
<text x="665.80" y="244.85" font-family='"Liberation Sans", sans-serif' font-size="8" fill="#333" textLength="12.299999999999999" lengthAdjust="spacingAndGlyphs" stroke="#333" stroke-width="0.22">260</text>
<text x="419.40" y="259.61" font-family='"Liberation Sans", sans-serif' font-size="8" fill="#333" text-anchor="end" textLength="12.299999999999999" lengthAdjust="spacingAndGlyphs" stroke="#333" stroke-width="0.22">280</text>
<text x="665.80" y="259.61" font-family='"Liberation Sans", sans-serif' font-size="8" fill="#333" textLength="12.299999999999999" lengthAdjust="spacingAndGlyphs" stroke="#333" stroke-width="0.22">280</text>
<text x="419.40" y="274.36" font-family='"Liberation Sans", sans-serif' font-size="8" fill="#333" text-anchor="end" textLength="12.299999999999999" lengthAdjust="spacingAndGlyphs" stroke="#333" stroke-width="0.22">300</text>
<text x="665.80" y="274.36" font-family='"Liberation Sans", sans-serif' font-size="8" fill="#333" textLength="12.299999999999999" lengthAdjust="spacingAndGlyphs" stroke="#333" stroke-width="0.22">300</text>
<text x="419.40" y="289.11" font-family='"Liberation Sans", sans-serif' font-size="8" fill="#333" text-anchor="end" textLength="12.299999999999999" lengthAdjust="spacingAndGlyphs" stroke="#333" stroke-width="0.22">320</text>
<text x="665.80" y="289.11" font-family='"Liberation Sans", sans-serif' font-size="8" fill="#333" textLength="12.299999999999999" lengthAdjust="spacingAndGlyphs" stroke="#333" stroke-width="0.22">320</text>
<text x="419.40" y="303.87" font-family='"Liberation Sans", sans-serif' font-size="8" fill="#333" text-anchor="end" textLength="12.299999999999999" lengthAdjust="spacingAndGlyphs" stroke="#333" stroke-width="0.22">340</text>
<text x="665.80" y="303.87" font-family='"Liberation Sans", sans-serif' font-size="8" fill="#333" textLength="12.299999999999999" lengthAdjust="spacingAndGlyphs" stroke="#333" stroke-width="0.22">340</text>
<text x="419.40" y="318.62" font-family='"Liberation Sans", sans-serif' font-size="8" fill="#333" text-anchor="end" textLength="12.299999999999999" lengthAdjust="spacingAndGlyphs" stroke="#333" stroke-width="0.22">360</text>
<text x="665.80" y="318.62" font-family='"Liberation Sans", sans-serif' font-size="8" fill="#333" textLength="12.299999999999999" lengthAdjust="spacingAndGlyphs" stroke="#333" stroke-width="0.22">360</text>
<text x="419.40" y="333.38" font-family='"Liberation Sans", sans-serif' font-size="8" fill="#333" text-anchor="end" textLength="12.299999999999999" lengthAdjust="spacingAndGlyphs" stroke="#333" stroke-width="0.22">380</text>
<text x="665.80" y="333.38" font-family='"Liberation Sans", sans-serif' font-size="8" fill="#333" textLength="12.299999999999999" lengthAdjust="spacingAndGlyphs" stroke="#333" stroke-width="0.22">380</text>
<text x="419.40" y="348.13" font-family='"Liberation Sans", sans-serif' font-size="8" fill="#333" text-anchor="end" textLength="12.299999999999999" lengthAdjust="spacingAndGlyphs" stroke="#333" stroke-width="0.22">400</text>
<text x="665.80" y="348.13" font-family='"Liberation Sans", sans-serif' font-size="8" fill="#333" textLength="12.299999999999999" lengthAdjust="spacingAndGlyphs" stroke="#333" stroke-width="0.22">400</text>
<text x="419.40" y="362.88" font-family='"Liberation Sans", sans-serif' font-size="8" fill="#333" text-anchor="end" textLength="12.299999999999999" lengthAdjust="spacingAndGlyphs" stroke="#333" stroke-width="0.22">420</text>
<text x="665.80" y="362.88" font-family='"Liberation Sans", sans-serif' font-size="8" fill="#333" textLength="12.299999999999999" lengthAdjust="spacingAndGlyphs" stroke="#333" stroke-width="0.22">420</text>
<text x="419.40" y="377.64" font-family='"Liberation Sans", sans-serif' font-size="8" fill="#333" text-anchor="end" textLength="12.299999999999999" lengthAdjust="spacingAndGlyphs" stroke="#333" stroke-width="0.22">440</text>
<text x="665.80" y="377.64" font-family='"Liberation Sans", sans-serif' font-size="8" fill="#333" textLength="12.299999999999999" lengthAdjust="spacingAndGlyphs" stroke="#333" stroke-width="0.22">440</text>
<text x="419.40" y="392.39" font-family='"Liberation Sans", sans-serif' font-size="8" fill="#333" text-anchor="end" textLength="12.299999999999999" lengthAdjust="spacingAndGlyphs" stroke="#333" stroke-width="0.22">460</text>
<text x="665.80" y="392.39" font-family='"Liberation Sans", sans-serif' font-size="8" fill="#333" textLength="12.299999999999999" lengthAdjust="spacingAndGlyphs" stroke="#333" stroke-width="0.22">460</text>
<text x="419.40" y="407.15" font-family='"Liberation Sans", sans-serif' font-size="8" fill="#333" text-anchor="end" textLength="12.299999999999999" lengthAdjust="spacingAndGlyphs" stroke="#333" stroke-width="0.22">480</text>
<text x="665.80" y="407.15" font-family='"Liberation Sans", sans-serif' font-size="8" fill="#333" textLength="12.299999999999999" lengthAdjust="spacingAndGlyphs" stroke="#333" stroke-width="0.22">480</text>
<text x="419.40" y="421.90" font-family='"Liberation Sans", sans-serif' font-size="8" fill="#333" text-anchor="end" textLength="12.299999999999999" lengthAdjust="spacingAndGlyphs" stroke="#333" stroke-width="0.22">500</text>
<text x="665.80" y="421.90" font-family='"Liberation Sans", sans-serif' font-size="8" fill="#333" textLength="12.299999999999999" lengthAdjust="spacingAndGlyphs" stroke="#333" stroke-width="0.22">500</text>
<text x="419.40" y="436.65" font-family='"Liberation Sans", sans-serif' font-size="8" fill="#333" text-anchor="end" textLength="12.299999999999999" lengthAdjust="spacingAndGlyphs" stroke="#333" stroke-width="0.22">520</text>
<text x="665.80" y="436.65" font-family='"Liberation Sans", sans-serif' font-size="8" fill="#333" textLength="12.299999999999999" lengthAdjust="spacingAndGlyphs" stroke="#333" stroke-width="0.22">520</text>
<text x="419.40" y="451.41" font-family='"Liberation Sans", sans-serif' font-size="8" fill="#333" text-anchor="end" textLength="12.299999999999999" lengthAdjust="spacingAndGlyphs" stroke="#333" stroke-width="0.22">540</text>
<text x="665.80" y="451.41" font-family='"Liberation Sans", sans-serif' font-size="8" fill="#333" textLength="12.299999999999999" lengthAdjust="spacingAndGlyphs" stroke="#333" stroke-width="0.22">540</text>
<text x="419.40" y="466.16" font-family='"Liberation Sans", sans-serif' font-size="8" fill="#333" text-anchor="end" textLength="12.299999999999999" lengthAdjust="spacingAndGlyphs" stroke="#333" stroke-width="0.22">560</text>
<text x="665.80" y="466.16" font-family='"Liberation Sans", sans-serif' font-size="8" fill="#333" textLength="12.299999999999999" lengthAdjust="spacingAndGlyphs" stroke="#333" stroke-width="0.22">560</text>
<text x="419.40" y="480.92" font-family='"Liberation Sans", sans-serif' font-size="8" fill="#333" text-anchor="end" textLength="12.299999999999999" lengthAdjust="spacingAndGlyphs" stroke="#333" stroke-width="0.22">580</text>
<text x="665.80" y="480.92" font-family='"Liberation Sans", sans-serif' font-size="8" fill="#333" textLength="12.299999999999999" lengthAdjust="spacingAndGlyphs" stroke="#333" stroke-width="0.22">580</text>
<text x="419.40" y="495.67" font-family='"Liberation Sans", sans-serif' font-size="8" fill="#333" text-anchor="end" textLength="12.299999999999999" lengthAdjust="spacingAndGlyphs" stroke="#333" stroke-width="0.22">600</text>
<text x="665.80" y="495.67" font-family='"Liberation Sans", sans-serif' font-size="8" fill="#333" textLength="12.299999999999999" lengthAdjust="spacingAndGlyphs" stroke="#333" stroke-width="0.22">600</text>
<text x="419.40" y="510.42" font-family='"Liberation Sans", sans-serif' font-size="8" fill="#333" text-anchor="end" textLength="12.299999999999999" lengthAdjust="spacingAndGlyphs" stroke="#333" stroke-width="0.22">620</text>
<text x="665.80" y="510.42" font-family='"Liberation Sans", sans-serif' font-size="8" fill="#333" textLength="12.299999999999999" lengthAdjust="spacingAndGlyphs" stroke="#333" stroke-width="0.22">620</text>
<text x="419.40" y="525.18" font-family='"Liberation Sans", sans-serif' font-size="8" fill="#333" text-anchor="end" textLength="12.299999999999999" lengthAdjust="spacingAndGlyphs" stroke="#333" stroke-width="0.22">640</text>
<text x="665.80" y="525.18" font-family='"Liberation Sans", sans-serif' font-size="8" fill="#333" textLength="12.299999999999999" lengthAdjust="spacingAndGlyphs" stroke="#333" stroke-width="0.22">640</text>
<text x="419.40" y="539.93" font-family='"Liberation Sans", sans-serif' font-size="8" fill="#333" text-anchor="end" textLength="12.299999999999999" lengthAdjust="spacingAndGlyphs" stroke="#333" stroke-width="0.22">660</text>
<text x="665.80" y="539.93" font-family='"Liberation Sans", sans-serif' font-size="8" fill="#333" textLength="12.299999999999999" lengthAdjust="spacingAndGlyphs" stroke="#333" stroke-width="0.22">660</text>
<text x="419.40" y="554.69" font-family='"Liberation Sans", sans-serif' font-size="8" fill="#333" text-anchor="end" textLength="12.299999999999999" lengthAdjust="spacingAndGlyphs" stroke="#333" stroke-width="0.22">680</text>
<text x="665.80" y="554.69" font-family='"Liberation Sans", sans-serif' font-size="8" fill="#333" textLength="12.299999999999999" lengthAdjust="spacingAndGlyphs" stroke="#333" stroke-width="0.22">680</text>
<text x="419.40" y="569.44" font-family='"Liberation Sans", sans-serif' font-size="8" fill="#333" text-anchor="end" textLength="12.299999999999999" lengthAdjust="spacingAndGlyphs" stroke="#333" stroke-width="0.22">700</text>
<text x="665.80" y="569.44" font-family='"Liberation Sans", sans-serif' font-size="8" fill="#333" textLength="12.299999999999999" lengthAdjust="spacingAndGlyphs" stroke="#333" stroke-width="0.22">700</text>
<text x="419.40" y="584.19" font-family='"Liberation Sans", sans-serif' font-size="8" fill="#333" text-anchor="end" textLength="12.299999999999999" lengthAdjust="spacingAndGlyphs" stroke="#333" stroke-width="0.22">720</text>
<text x="665.80" y="584.19" font-family='"Liberation Sans", sans-serif' font-size="8" fill="#333" textLength="12.299999999999999" lengthAdjust="spacingAndGlyphs" stroke="#333" stroke-width="0.22">720</text>
<text x="419.40" y="598.95" font-family='"Liberation Sans", sans-serif' font-size="8" fill="#333" text-anchor="end" textLength="12.299999999999999" lengthAdjust="spacingAndGlyphs" stroke="#333" stroke-width="0.22">740</text>
<text x="665.80" y="598.95" font-family='"Liberation Sans", sans-serif' font-size="8" fill="#333" textLength="12.299999999999999" lengthAdjust="spacingAndGlyphs" stroke="#333" stroke-width="0.22">740</text>
<text x="419.40" y="613.70" font-family='"Liberation Sans", sans-serif' font-size="8" fill="#333" text-anchor="end" textLength="12.299999999999999" lengthAdjust="spacingAndGlyphs" stroke="#333" stroke-width="0.22">760</text>
<text x="665.80" y="613.70" font-family='"Liberation Sans", sans-serif' font-size="8" fill="#333" textLength="12.299999999999999" lengthAdjust="spacingAndGlyphs" stroke="#333" stroke-width="0.22">760</text>
<path d="M423.0 54.54H424.5M661.7 54.54H663.2M423.0 58.23H424.5M661.7 58.23H663.2M423.0 61.92H424.5M661.7 61.92H663.2M421.5 65.60H424.5M661.7 65.60H665.0M423.0 69.29H424.5M661.7 69.29H663.2M423.0 72.98H424.5M661.7 72.98H663.2M423.0 76.67H424.5M661.7 76.67H663.2M421.5 80.36H424.5M661.7 80.36H665.0M423.0 84.05H424.5M661.7 84.05H663.2M423.0 87.73H424.5M661.7 87.73H663.2M423.0 91.42H424.5M661.7 91.42H663.2M421.5 95.11H424.5M661.7 95.11H665.0M423.0 98.80H424.5M661.7 98.80H663.2M423.0 102.49H424.5M661.7 102.49H663.2M423.0 106.18H424.5M661.7 106.18H663.2M421.5 109.87H424.5M661.7 109.87H665.0M423.0 113.55H424.5M661.7 113.55H663.2M423.0 117.24H424.5M661.7 117.24H663.2M423.0 120.93H424.5M661.7 120.93H663.2M421.5 124.62H424.5M661.7 124.62H665.0M423.0 128.31H424.5M661.7 128.31H663.2M423.0 132.00H424.5M661.7 132.00H663.2M423.0 135.69H424.5M661.7 135.69H663.2M421.5 139.37H424.5M661.7 139.37H665.0M423.0 143.06H424.5M661.7 143.06H663.2M423.0 146.75H424.5M661.7 146.75H663.2M423.0 150.44H424.5M661.7 150.44H663.2M421.5 154.13H424.5M661.7 154.13H665.0M423.0 157.82H424.5M661.7 157.82H663.2M423.0 161.50H424.5M661.7 161.50H663.2M423.0 165.19H424.5M661.7 165.19H663.2M421.5 168.88H424.5M661.7 168.88H665.0M423.0 172.57H424.5M661.7 172.57H663.2M423.0 176.26H424.5M661.7 176.26H663.2M423.0 179.95H424.5M661.7 179.95H663.2M421.5 183.64H424.5M661.7 183.64H665.0M423.0 187.32H424.5M661.7 187.32H663.2M423.0 191.01H424.5M661.7 191.01H663.2M423.0 194.70H424.5M661.7 194.70H663.2M421.5 198.39H424.5M661.7 198.39H665.0M423.0 202.08H424.5M661.7 202.08H663.2M423.0 205.77H424.5M661.7 205.77H663.2M423.0 209.46H424.5M661.7 209.46H663.2M421.5 213.14H424.5M661.7 213.14H665.0M423.0 216.83H424.5M661.7 216.83H663.2M423.0 220.52H424.5M661.7 220.52H663.2M423.0 224.21H424.5M661.7 224.21H663.2M421.5 227.90H424.5M661.7 227.90H665.0M423.0 231.59H424.5M661.7 231.59H663.2M423.0 235.28H424.5M661.7 235.28H663.2M423.0 238.96H424.5M661.7 238.96H663.2M421.5 242.65H424.5M661.7 242.65H665.0M423.0 246.34H424.5M661.7 246.34H663.2M423.0 250.03H424.5M661.7 250.03H663.2M423.0 253.72H424.5M661.7 253.72H663.2M421.5 257.41H424.5M661.7 257.41H665.0M423.0 261.09H424.5M661.7 261.09H663.2M423.0 264.78H424.5M661.7 264.78H663.2M423.0 268.47H424.5M661.7 268.47H663.2M421.5 272.16H424.5M661.7 272.16H665.0M423.0 275.85H424.5M661.7 275.85H663.2M423.0 279.54H424.5M661.7 279.54H663.2M423.0 283.23H424.5M661.7 283.23H663.2M421.5 286.91H424.5M661.7 286.91H665.0M423.0 290.60H424.5M661.7 290.60H663.2M423.0 294.29H424.5M661.7 294.29H663.2M423.0 297.98H424.5M661.7 297.98H663.2M421.5 301.67H424.5M661.7 301.67H665.0M423.0 305.36H424.5M661.7 305.36H663.2M423.0 309.05H424.5M661.7 309.05H663.2M423.0 312.73H424.5M661.7 312.73H663.2M421.5 316.42H424.5M661.7 316.42H665.0M423.0 320.11H424.5M661.7 320.11H663.2M423.0 323.80H424.5M661.7 323.80H663.2M423.0 327.49H424.5M661.7 327.49H663.2M421.5 331.18H424.5M661.7 331.18H665.0M423.0 334.86H424.5M661.7 334.86H663.2M423.0 338.55H424.5M661.7 338.55H663.2M423.0 342.24H424.5M661.7 342.24H663.2M421.5 345.93H424.5M661.7 345.93H665.0M423.0 349.62H424.5M661.7 349.62H663.2M423.0 353.31H424.5M661.7 353.31H663.2M423.0 357.00H424.5M661.7 357.00H663.2M421.5 360.68H424.5M661.7 360.68H665.0M423.0 364.37H424.5M661.7 364.37H663.2M423.0 368.06H424.5M661.7 368.06H663.2M423.0 371.75H424.5M661.7 371.75H663.2M421.5 375.44H424.5M661.7 375.44H665.0M423.0 379.13H424.5M661.7 379.13H663.2M423.0 382.82H424.5M661.7 382.82H663.2M423.0 386.50H424.5M661.7 386.50H663.2M421.5 390.19H424.5M661.7 390.19H665.0M423.0 393.88H424.5M661.7 393.88H663.2M423.0 397.57H424.5M661.7 397.57H663.2M423.0 401.26H424.5M661.7 401.26H663.2M421.5 404.95H424.5M661.7 404.95H665.0M423.0 408.63H424.5M661.7 408.63H663.2M423.0 412.32H424.5M661.7 412.32H663.2M423.0 416.01H424.5M661.7 416.01H663.2M421.5 419.70H424.5M661.7 419.70H665.0M423.0 423.39H424.5M661.7 423.39H663.2M423.0 427.08H424.5M661.7 427.08H663.2M423.0 430.77H424.5M661.7 430.77H663.2M421.5 434.45H424.5M661.7 434.45H665.0M423.0 438.14H424.5M661.7 438.14H663.2M423.0 441.83H424.5M661.7 441.83H663.2M423.0 445.52H424.5M661.7 445.52H663.2M421.5 449.21H424.5M661.7 449.21H665.0M423.0 452.90H424.5M661.7 452.90H663.2M423.0 456.59H424.5M661.7 456.59H663.2M423.0 460.27H424.5M661.7 460.27H663.2M421.5 463.96H424.5M661.7 463.96H665.0M423.0 467.65H424.5M661.7 467.65H663.2M423.0 471.34H424.5M661.7 471.34H663.2M423.0 475.03H424.5M661.7 475.03H663.2M421.5 478.72H424.5M661.7 478.72H665.0M423.0 482.40H424.5M661.7 482.40H663.2M423.0 486.09H424.5M661.7 486.09H663.2M423.0 489.78H424.5M661.7 489.78H663.2M421.5 493.47H424.5M661.7 493.47H665.0M423.0 497.16H424.5M661.7 497.16H663.2M423.0 500.85H424.5M661.7 500.85H663.2M423.0 504.54H424.5M661.7 504.54H663.2M421.5 508.22H424.5M661.7 508.22H665.0M423.0 511.91H424.5M661.7 511.91H663.2M423.0 515.60H424.5M661.7 515.60H663.2M423.0 519.29H424.5M661.7 519.29H663.2M421.5 522.98H424.5M661.7 522.98H665.0M423.0 526.67H424.5M661.7 526.67H663.2M423.0 530.36H424.5M661.7 530.36H663.2M423.0 534.04H424.5M661.7 534.04H663.2M421.5 537.73H424.5M661.7 537.73H665.0M423.0 541.42H424.5M661.7 541.42H663.2M423.0 545.11H424.5M661.7 545.11H663.2M423.0 548.80H424.5M661.7 548.80H663.2M421.5 552.49H424.5M661.7 552.49H665.0M423.0 556.17H424.5M661.7 556.17H663.2M423.0 559.86H424.5M661.7 559.86H663.2M423.0 563.55H424.5M661.7 563.55H663.2M421.5 567.24H424.5M661.7 567.24H665.0M423.0 570.93H424.5M661.7 570.93H663.2M423.0 574.62H424.5M661.7 574.62H663.2M423.0 578.31H424.5M661.7 578.31H663.2M421.5 581.99H424.5M661.7 581.99H665.0M423.0 585.68H424.5M661.7 585.68H663.2M423.0 589.37H424.5M661.7 589.37H663.2M423.0 593.06H424.5M661.7 593.06H663.2M421.5 596.75H424.5M661.7 596.75H665.0M423.0 600.44H424.5M661.7 600.44H663.2M423.0 604.12H424.5M661.7 604.12H663.2M423.0 607.81H424.5M661.7 607.81H663.2M421.5 611.50H424.5M661.7 611.50H665.0M423.0 615.19H424.5M661.7 615.19H663.2" stroke="#3a3a3a" stroke-width="0.8"/>
<text x="430.90" y="45.10" font-family='"Liberation Sans", sans-serif' font-size="8.4" fill="#333" text-anchor="end" textLength="7.9" lengthAdjust="spacingAndGlyphs" stroke="#333" stroke-width="0.2">10</text>
<text x="429.60" y="39.20" font-family='"Liberation Sans", sans-serif' font-size="5.4" fill="#8a8a8a">0</text>
<text x="431.80" y="629.50" font-family='"Liberation Sans", sans-serif' font-size="8.4" fill="#333" text-anchor="end" textLength="7.9" lengthAdjust="spacingAndGlyphs" stroke="#333" stroke-width="0.2">10</text>
<text x="430.50" y="623.00" font-family='"Liberation Sans", sans-serif' font-size="5.4" fill="#8a8a8a">0</text>
<text x="486.70" y="45.10" font-family='"Liberation Sans", sans-serif' font-size="8.4" fill="#333" text-anchor="end" textLength="7.9" lengthAdjust="spacingAndGlyphs" stroke="#333" stroke-width="0.2">10</text>
<text x="485.40" y="39.20" font-family='"Liberation Sans", sans-serif' font-size="5.4" fill="#8a8a8a">1</text>
<text x="487.60" y="629.50" font-family='"Liberation Sans", sans-serif' font-size="8.4" fill="#333" text-anchor="end" textLength="7.9" lengthAdjust="spacingAndGlyphs" stroke="#333" stroke-width="0.2">10</text>
<text x="486.30" y="623.00" font-family='"Liberation Sans", sans-serif' font-size="5.4" fill="#8a8a8a">1</text>
<text x="542.50" y="45.10" font-family='"Liberation Sans", sans-serif' font-size="8.4" fill="#333" text-anchor="end" textLength="7.9" lengthAdjust="spacingAndGlyphs" stroke="#333" stroke-width="0.2">10</text>
<text x="541.20" y="39.20" font-family='"Liberation Sans", sans-serif' font-size="5.4" fill="#8a8a8a">2</text>
<text x="543.40" y="629.50" font-family='"Liberation Sans", sans-serif' font-size="8.4" fill="#333" text-anchor="end" textLength="7.9" lengthAdjust="spacingAndGlyphs" stroke="#333" stroke-width="0.2">10</text>
<text x="542.10" y="623.00" font-family='"Liberation Sans", sans-serif' font-size="5.4" fill="#8a8a8a">2</text>
<text x="598.30" y="45.10" font-family='"Liberation Sans", sans-serif' font-size="8.4" fill="#333" text-anchor="end" textLength="7.9" lengthAdjust="spacingAndGlyphs" stroke="#333" stroke-width="0.2">10</text>
<text x="597.00" y="39.20" font-family='"Liberation Sans", sans-serif' font-size="5.4" fill="#8a8a8a">3</text>
<text x="599.20" y="629.50" font-family='"Liberation Sans", sans-serif' font-size="8.4" fill="#333" text-anchor="end" textLength="7.9" lengthAdjust="spacingAndGlyphs" stroke="#333" stroke-width="0.2">10</text>
<text x="597.90" y="623.00" font-family='"Liberation Sans", sans-serif' font-size="5.4" fill="#8a8a8a">3</text>
<text x="654.10" y="45.10" font-family='"Liberation Sans", sans-serif' font-size="8.4" fill="#333" text-anchor="end" textLength="7.9" lengthAdjust="spacingAndGlyphs" stroke="#333" stroke-width="0.2">10</text>
<text x="652.80" y="39.20" font-family='"Liberation Sans", sans-serif' font-size="5.4" fill="#8a8a8a">4</text>
<text x="655.00" y="629.50" font-family='"Liberation Sans", sans-serif' font-size="8.4" fill="#333" text-anchor="end" textLength="7.9" lengthAdjust="spacingAndGlyphs" stroke="#333" stroke-width="0.2">10</text>
<text x="653.70" y="623.00" font-family='"Liberation Sans", sans-serif' font-size="5.4" fill="#8a8a8a">4</text>
<path d="M431.50 48.0V50.5M431.50 617.4V619.6M448.30 49.2V50.5M448.30 617.4V618.4M458.12 49.2V50.5M458.12 617.4V618.4M465.09 49.2V50.5M465.09 617.4V618.4M470.50 49.2V50.5M470.50 617.4V618.4M474.92 49.2V50.5M474.92 617.4V618.4M478.66 49.2V50.5M478.66 617.4V618.4M481.89 49.2V50.5M481.89 617.4V618.4M484.75 49.2V50.5M484.75 617.4V618.4M487.30 48.0V50.5M487.30 617.4V619.6M504.10 49.2V50.5M504.10 617.4V618.4M513.92 49.2V50.5M513.92 617.4V618.4M520.89 49.2V50.5M520.89 617.4V618.4M526.30 49.2V50.5M526.30 617.4V618.4M530.72 49.2V50.5M530.72 617.4V618.4M534.46 49.2V50.5M534.46 617.4V618.4M537.69 49.2V50.5M537.69 617.4V618.4M540.55 49.2V50.5M540.55 617.4V618.4M543.10 48.0V50.5M543.10 617.4V619.6M559.90 49.2V50.5M559.90 617.4V618.4M569.72 49.2V50.5M569.72 617.4V618.4M576.69 49.2V50.5M576.69 617.4V618.4M582.10 49.2V50.5M582.10 617.4V618.4M586.52 49.2V50.5M586.52 617.4V618.4M590.26 49.2V50.5M590.26 617.4V618.4M593.49 49.2V50.5M593.49 617.4V618.4M596.35 49.2V50.5M596.35 617.4V618.4M598.90 48.0V50.5M598.90 617.4V619.6M615.70 49.2V50.5M615.70 617.4V618.4M625.52 49.2V50.5M625.52 617.4V618.4M632.49 49.2V50.5M632.49 617.4V618.4M637.90 49.2V50.5M637.90 617.4V618.4M642.32 49.2V50.5M642.32 617.4V618.4M646.06 49.2V50.5M646.06 617.4V618.4M649.29 49.2V50.5M649.29 617.4V618.4M652.15 49.2V50.5M652.15 617.4V618.4M654.70 48.0V50.5M654.70 617.4V619.6" stroke="#444" stroke-width="0.8"/>
<path d="M603.16 50.5 V77.64 H553.45 V93.76 H490.13 V175.95 H470.50 V463.86 H488.64 V565.82 H526.64 V617.4" fill="none" stroke="#333" stroke-width="1.3"/>
<text x="432.20" y="29.90" font-family='"Liberation Sans", sans-serif' font-size="11.2" fill="#111" font-weight="bold" textLength="33.8" lengthAdjust="spacingAndGlyphs">Well 5</text>
<text x="503.60" y="22.90" font-family='"Liberation Serif", serif' font-size="15.8" fill="#6b16d8" font-weight="bold" textLength="50.6" lengthAdjust="spacingAndGlyphs" filter="url(#sh)">TEM-3</text>
<text x="468.20" y="652.30" font-family='"Liberation Serif", serif' font-size="16" fill="#6b16d8" font-weight="bold" textLength="138.6" lengthAdjust="spacingAndGlyphs" filter="url(#sh)">Resistivity (Ohm.m)</text>
<g transform="translate(389.4 342.6) rotate(-90)" filter="url(#sh)"><text x="0.00" y="0.00" font-family='"Liberation Serif", serif' font-size="15.9" fill="#6b16d8" font-weight="bold" textLength="71.0" lengthAdjust="spacingAndGlyphs">Depth (m)</text></g>
</svg>
</body></html>
